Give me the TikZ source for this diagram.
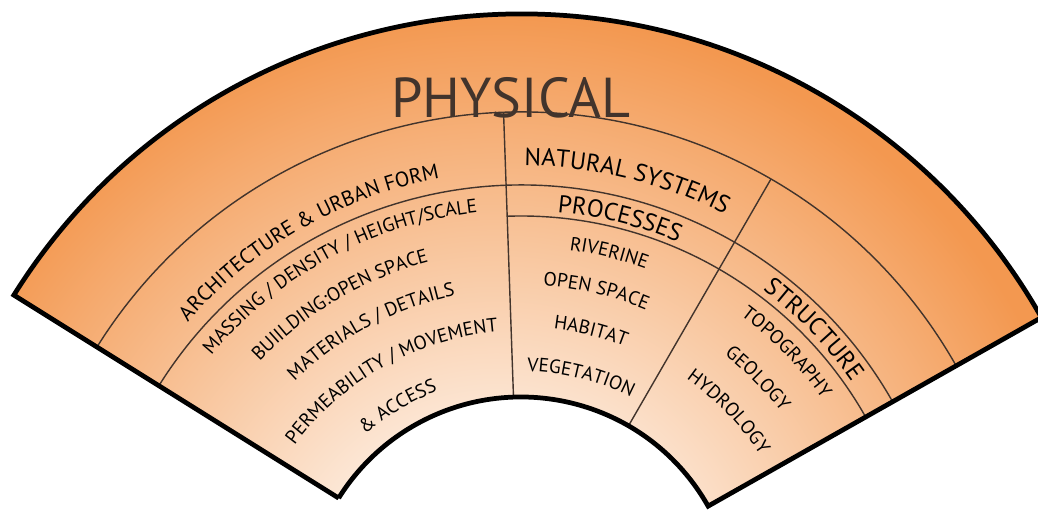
\documentclass[tikz,border=0pt]{standalone}
\usepackage{fontspec}
\setmainfont{PT Sans}
\usetikzlibrary{decorations.text}

\definecolor{naranja}{RGB}{243,152,80}
\definecolor{durazno}{RGB}{252,230,212}
\definecolor{tinta}{RGB}{66,52,44}
\pgfdeclareradialshading{abanico}{\pgfpoint{0bp}{0bp}}{%
  color(0bp)=(durazno); color(8bp)=(durazno); color(24bp)=(naranja); color(50bp)=(naranja)}

\newcommand\letrachica{\fontsize{11}{11}\selectfont}
\newcommand\letramedia{\fontsize{12}{12}\selectfont}
\newcommand\letragrande{\fontsize{14}{14}\selectfont}

\begin{document}
\begin{tikzpicture}[
    % contorno grueso y divisiones finas
    borde/.style={line width=2.7pt, draw=black, line join=miter},
    division/.style={line width=0.8pt, draw=tinta},
    % texto curvo sobre un arco
    rotulo/.style={tinta, decorate, decoration={text along path, text align=center, text={#1}}}
  ]
  \useasboundingbox (-10.42,2.02) rectangle (10.34,12.24);

  % relleno con degradado
  \begin{scope}
    \clip (148:4.3) -- (148:11.96) arc[start angle=148, end angle=29.5, radius=11.96]
      -- (29.5:4.3) arc[start angle=29.5, end angle=148, radius=4.3] -- cycle;
    \shade[shading=abanico] (-0.5,0) circle (12.5);
  \end{scope}

  % divisiones
  \draw[division] (148:10) arc[start angle=148, end angle=29.5, radius=10];
  \draw[division] (148:8.54) arc[start angle=148, end angle=29.5, radius=8.54];
  \draw[division] (92:7.92) arc[start angle=92, end angle=29.5, radius=7.92];
  \draw[division] (92:4.3) -- (92:10);
  \draw[division] (60:4.3) -- (60:10);

  % contorno
  \draw[borde] (148:4.3) -- (148:11.96) arc[start angle=148, end angle=29.5, radius=11.96]
    -- (29.5:4.3) arc[start angle=29.5, end angle=148, radius=4.3] -- cycle;

  \node[font=\fontsize{32}{32}\selectfont, text=tinta, anchor=base, inner sep=0pt] (fisico) at (-0.2,9.88) {PHYSICAL};

  % columna izquierda
  \path[rotulo={|\letramedia|ARCHITECTURE {\&} URBAN FORM}] (149.8:8.83) arc[start angle=149.8, end angle=89.8, radius=8.83];
  \path[rotulo={|\letrachica|MASSING / DENSITY / HEIGHT/SCALE}] (148.3:8.04) arc[start angle=148.3, end angle=88.3, radius=8.04];
  \path[rotulo={|\letrachica|BUIILDING:OPEN SPACE}] (150.5:7.24) arc[start angle=150.5, end angle=90.5, radius=7.24];
  \path[rotulo={|\letrachica|MATERIALS / DETAILS}] (148.1:6.46) arc[start angle=148.1, end angle=88.1, radius=6.46];
  \path[rotulo={|\letrachica|PERMEABILITY / MOVEMENT}] (149.2:5.62) arc[start angle=149.2, end angle=89.2, radius=5.62];
  \path[rotulo={|\letrachica|{\&} ACCESS}] (151:4.72) arc[start angle=151, end angle=91, radius=4.72];

  % columna central
  \path[rotulo={|\letragrande|NATURAL SYSTEMS}] (106.2:8.93) arc[start angle=106.2, end angle=46.2, radius=8.93];
  \path[rotulo={|\letragrande|PROCESSES}] (105.9:8.03) arc[start angle=105.9, end angle=45.9, radius=8.03];
  \path[rotulo={|\letrachica|RIVERINE}] (106.2:7.3) arc[start angle=106.2, end angle=46.2, radius=7.3];
  \path[rotulo={|\letrachica|OPEN SPACE}] (106.8:6.54) arc[start angle=106.8, end angle=46.8, radius=6.54];
  \path[rotulo={|\letrachica|HABITAT}] (106:5.7) arc[start angle=106, end angle=46, radius=5.7];
  \path[rotulo={|\letrachica|VEGETATION}] (105.7:4.82) arc[start angle=105.7, end angle=45.7, radius=4.82];

  % columna derecha
  \path[rotulo={|\letragrande|STRUCTURE}] (74:8.06) arc[start angle=74, end angle=14, radius=8.06];
  \path[rotulo={|\letrachica|TOPOGRAPHY}] (74.4:7.38) arc[start angle=74.4, end angle=14.4, radius=7.38];
  \path[rotulo={|\letrachica|GEOLOGY}] (74.6:6.56) arc[start angle=74.6, end angle=14.6, radius=6.56];
  \path[rotulo={|\letrachica|HYDROLOGY}] (74:5.72) arc[start angle=74, end angle=14, radius=5.72];
\end{tikzpicture}
\end{document}
